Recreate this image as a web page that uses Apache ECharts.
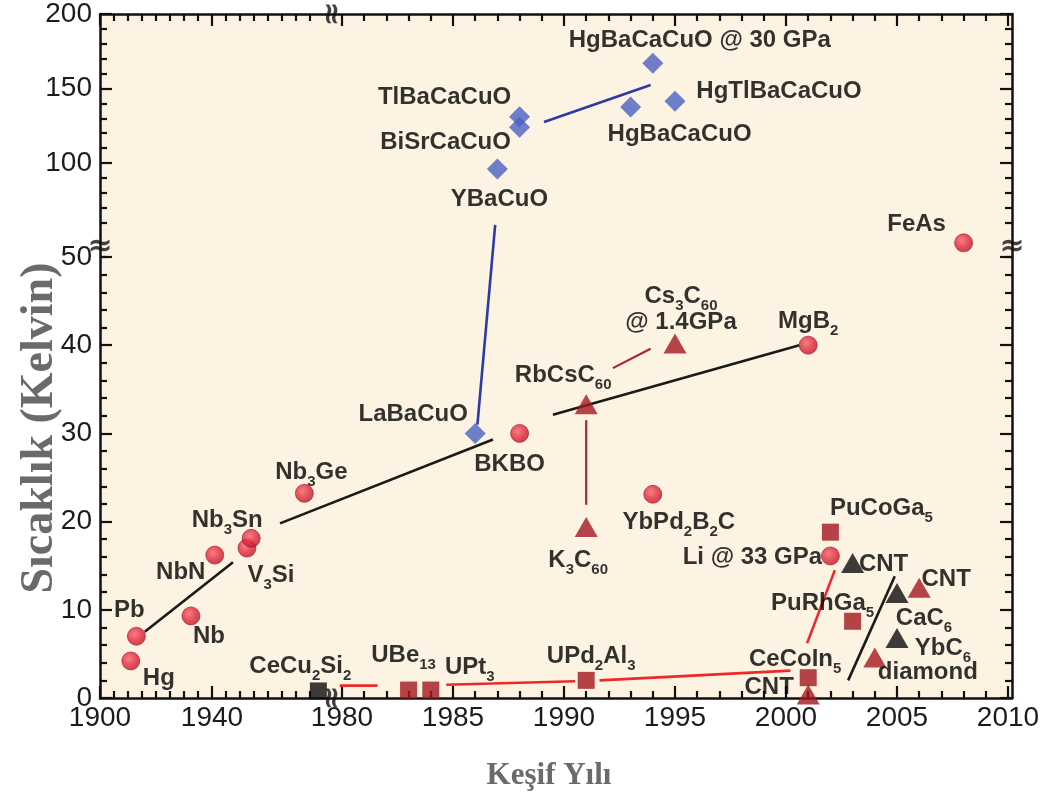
<!DOCTYPE html>
<html><head><meta charset="utf-8">
<script src="https://cdn.jsdelivr.net/npm/echarts@6/dist/echarts.min.js"></script>
<style>html,body{margin:0;padding:0;background:#fff}#c{width:1047px;height:798px}</style>
</head><body><div id="c"></div>
<script>
// ---------------- DATA (year, Tc in Kelvin) ----------------
const circleNames = ['Hg','Pb','Nb','NbN','V3Si','Nb3Sn','Nb3Ge','BKBO','YbPd2B2C','MgB2','Li','FeAs'];
const circleYears = [1911,1913,1932.5,1941,1952.5,1954,1973,1988,1994,2001,2002,2008];
const circleTc    = [4.2,7,9.3,16.2,17,18.1,23.2,30,23.1,40,16.1,51.6];

const diamondNames = ['LaBaCuO','YBaCuO','BiSrCaCuO','TlBaCaCuO','HgBaCaCuO','HgBaCaCuO30','HgTlBaCaCuO'];
const diamondYears = [1986,1987,1988,1988,1993,1994,1995];
const diamondTc    = [30,96,124,131,137.5,167,141.5];

const redTriNames = ['K3C60','RbCsC60','Cs3C60','CNT2001','diamond','CNT2006'];
const redTriYears = [1991,1991,1995,2001,2004,2006];
const redTriTc    = [19.4,33.3,40.2,0.4,4.6,12.5];

const blackTriNames = ['CNT2003','CaC6','YbC6'];
const blackTriYears = [2003,2005,2005];
const blackTriTc    = [15.3,11.9,6.8];

const squareNames = ['UBe13','UPt3','UPd2Al3','CeCoIn5','PuCoGa5','PuRhGa5'];
const squareYears = [1983,1984,1991,2001,2002,2003];
const squareTc    = [0.9,0.9,2.0,2.3,18.8,8.7];

const blackSquareNames = ['CeCu2Si2'];
const blackSquareYears = [1978];
const blackSquareTc    = [0.8];

// guide lines: [[year, Tc], [year, Tc]]
const blackLines = [[[1916,7.5],[1947.5,15.4]], [[1964.3,19.8],[1986.8,29.3]], [[1989.5,32.1],[2000.6,40]], [[2002.8,2.0],[2004.9,13.8]]];
const blueLines  = [[[1986.1,31],[1986.9,58.4]], [[1989.1,127.5],[1993.9,152.3]]];
const redLines   = [[[1979.9,1.4],[1981.6,1.4]], [[1984.7,1.5],[1990.5,1.9]], [[1991.6,2.0],[2000.2,3.1]], [[2000.95,6.2],[2002.2,14.5]]];
const darkRedLines = [[[1992.2,37.4],[1993.9,39.6]], [[1991,31.5],[1991,21.9]]];

// tick labels
const xMajorTicks = [1900,1940,1980,1985,1990,1995,2000,2005,2010];
const xMinorTicks = [1905,1910,1915,1920,1925,1930,1935,1945,1950,1955,1960,1965,1970,1975,
  1981,1982,1983,1984,1986,1987,1988,1989,1991,1992,1993,1994,1996,1997,1998,1999,2001,2002,2003,2004,2006,2007,2008,2009];
const yMajorTicks = [0,10,20,30,40,50,100,150,200];
const yMinorTicks = [2,4,6,8,12,14,16,18,22,24,26,28,32,34,36,38,42,44,46,48,
  50,60,70,80,90,110,120,130,140,160,170,180,190];

// label texts (rich: s = subscript)
const labelText = {
  Hg:'Hg', Pb:'Pb', Nb:'Nb', NbN:'NbN', V3Si:'V{s|3}Si', Nb3Sn:'Nb{s|3}Sn', Nb3Ge:'Nb{s|3}Ge', BKBO:'BKBO',
  YbPd2B2C:'YbPd{s|2}B{s|2}C', MgB2:'MgB{s|2}', Li:'Li @ 33 GPa', FeAs:'FeAs',
  LaBaCuO:'LaBaCuO', YBaCuO:'YBaCuO', BiSrCaCuO:'BiSrCaCuO', TlBaCaCuO:'TlBaCaCuO', HgBaCaCuO:'HgBaCaCuO',
  HgBaCaCuO30:'HgBaCaCuO @ 30 GPa', HgTlBaCaCuO:'HgTlBaCaCuO',
  K3C60:'K{s|3}C{s|60}', RbCsC60:'RbCsC{s|60}', Cs3C60:'Cs{s|3}C{s|60}\n{b|@ 1.4GPa}', CNT2001:'CNT', diamond:'diamond', CNT2006:'CNT',
  CNT2003:'CNT', CaC6:'CaC{s|6}', YbC6:'YbC{s|6}',
  UBe13:'UBe{s|13}', UPt3:'UPt{s|3}', UPd2Al3:'UPd{s|2}Al{s|3}', CeCoIn5:'CeCoIn{s|5}', PuCoGa5:'PuCoGa{s|5}', PuRhGa5:'PuRhGa{s|5}',
  CeCu2Si2:'CeCu{s|2}Si{s|2}'
};
// label offsets from marker centre (px)
const labelOffset = {
  Hg:[28,17], Pb:[-7,-26], Nb:[18,20], NbN:[-34,17], V3Si:[24,27], Nb3Sn:[-24,-18], Nb3Ge:[7,-21], CeCu2Si2:[-18,-25],
  UBe13:[-5,-35], UPt3:[39,-23], UPd2Al3:[5,-24], LaBaCuO:[-62,-19], BKBO:[-10,31], YBaCuO:[2,30], BiSrCaCuO:[-74,15],
  TlBaCaCuO:[-75,-19], HgBaCaCuO30:[47,-23], HgTlBaCaCuO:[104,-10], HgBaCaCuO:[49,27], Cs3C60:[6,-38], MgB2:[0,-24],
  RbCsC60:[-23,-29], YbPd2B2C:[26,28], K3C60:[-8,33], PuCoGa5:[51,-24], Li:[-78,1], CNT2003:[31,1], CNT2006:[27,-8],
  PuRhGa5:[-30,-18], CaC6:[27,25], YbC6:[46,10], diamond:[53,15], CeCoIn5:[-13,-18], CNT2001:[-39,-7], FeAs:[-47,-18]
};

// ---------------- broken-axis transforms ----------------
const X_LEFT_T0 = 1969.10, X_LEFT_K = 0.1261, X_BREAK_T = 1979.59, X_MIN = 1969.10, X_MAX = 2010.18;
function xt(year){ return year < 1979.8 ? X_LEFT_T0 + (year - 1900) * X_LEFT_K : year; }
function xInv(t){ return t < X_BREAK_T ? 1900 + (t - X_LEFT_T0) / X_LEFT_K : t; }
const Y_BREAK_T = 51.13, Y_UP_FROM = 43.6, Y_UP_K = 0.1689;
function yt(v){ return v <= 53 ? v : Y_BREAK_T + (v - Y_UP_FROM) * Y_UP_K; }
function yInv(t){ return t <= Y_BREAK_T + 0.5 ? t : Y_UP_FROM + (t - Y_BREAK_T) / Y_UP_K; }
const Y_MAX = yt(200);

const FONT = "'Liberation Sans', Arial, Helvetica, sans-serif";
const INK = '#111';
const LABEL_INK = '#000000';

function pts(names, years, tcs){
  return names.map((n, i) => ({
    name: n, value: [xt(years[i]), yt(tcs[i])],
    label: { show: true, formatter: labelText[n], position: 'inside', offset: labelOffset[n] }
  }));
}
const labelStyle = {
  color: LABEL_INK, fontFamily: FONT, fontWeight: 'bold', fontSize: 24, lineHeight: 28,
  rich: {
    s: { fontFamily: FONT, fontWeight: 'bold', fontSize: 15, color: LABEL_INK, lineHeight: 34, verticalAlign: 'bottom' },
    b: { fontFamily: FONT, fontWeight: 'bold', fontSize: 24, color: LABEL_INK, lineHeight: 18 }
  }
};
function markerSeries(name, data, symbol, size, itemStyle){
  return { name, type: 'scatter', data, symbol, symbolSize: size, itemStyle, label: labelStyle,
    clip: false, z: 5, emphasis: { disabled: true } };
}
function lineSeries(segs, color, width){
  return segs.map(seg => ({ type: 'line', data: seg.map(p => [xt(p[0]), yt(p[1])]), showSymbol: false,
    symbol: 'none', lineStyle: { color, width }, silent: true, z: 3, clip: false }));
}

const redBall = new echarts.graphic.RadialGradient(0.4, 0.38, 0.65, [
  { offset: 0, color: '#f4616a' }, { offset: 0.55, color: '#e0273a' }, { offset: 1, color: '#b5162a' }]);

function xAxisDef(pos, major){
  return {
    type: 'value', min: X_MIN, max: X_MAX, position: pos,
    axisLine: { show: major, onZero: false, lineStyle: { color: INK, width: 2.5 } },
    axisTick: { show: true, inside: true, length: major ? 12 : 7,
      customValues: (major ? xMajorTicks : xMinorTicks).map(xt), lineStyle: { color: INK, width: 2.2 } },
    axisLabel: { show: major && pos === 'bottom', customValues: xMajorTicks.map(xt),
      formatter: v => String(Math.round(xInv(v))), fontFamily: FONT, fontSize: 28, color: '#1c1c1c', margin: 6 },
    splitLine: { show: false }
  };
}
function yAxisDef(pos, major){
  return {
    type: 'value', min: 0, max: Y_MAX, position: pos,
    axisLine: { show: major, onZero: false, lineStyle: { color: INK, width: 2.5 } },
    axisTick: { show: true, inside: true, length: major ? 12 : 7,
      customValues: (major ? yMajorTicks : yMinorTicks).map(yt), lineStyle: { color: INK, width: 2.2 } },
    axisLabel: { show: major && pos === 'left', customValues: yMajorTicks.map(yt),
      formatter: v => String(Math.round(yInv(v))), fontFamily: FONT, fontSize: 28, color: '#1c1c1c', margin: 8 },
    splitLine: { show: false }
  };
}

const breakMarks = {
  type: 'scatter', symbolSize: 1, itemStyle: { color: 'rgba(0,0,0,0)' }, clip: false, silent: true, z: 10,
  data: [
    { value: [X_BREAK_T, Y_MAX], label: { rotate: 90 } },
    { value: [X_BREAK_T, 0], label: { rotate: 90 } },
    { value: [X_MIN, Y_BREAK_T], label: { rotate: 0 } },
    { value: [X_MAX, Y_BREAK_T], label: { rotate: 0 } }
  ],
  label: { show: true, position: 'inside', formatter: '\u2248', fontSize: 30, fontWeight: 'bold', color: INK, fontFamily: "'DejaVu Sans', sans-serif" }
};

const chart = echarts.init(document.getElementById('c'), null, { renderer: 'canvas' });
chart.setOption({
  backgroundColor: '#ffffff',
  animation: false,
  grid: { left: 100, right: 35, top: 14, bottom: 100, show: true, backgroundColor: '#fdf3e3', borderWidth: 0 },
  xAxis: [xAxisDef('bottom', true), xAxisDef('bottom', false), xAxisDef('top', true), xAxisDef('top', false)],
  yAxis: [yAxisDef('left', true), yAxisDef('left', false), yAxisDef('right', true), yAxisDef('right', false)],
  series: [
    ...lineSeries(blackLines, '#1a1a1a', 2.6),
    ...lineSeries(blueLines, '#2b3aa8', 2.6),
    ...lineSeries(redLines, '#ec2a2a', 2.6),
    ...lineSeries(darkRedLines, '#a8262c', 2.2),
    markerSeries('circles', pts(circleNames, circleYears, circleTc), 'circle', 18, { color: redBall, borderColor: '#a3142a', borderWidth: 0.8 }),
    markerSeries('diamonds', pts(diamondNames, diamondYears, diamondTc), 'diamond', 21, { color: '#4a60c0' }),
    markerSeries('redTriangles', pts(redTriNames, redTriYears, redTriTc), 'triangle', [23, 20], { color: '#a3171f' }),
    markerSeries('blackTriangles', pts(blackTriNames, blackTriYears, blackTriTc), 'triangle', [23, 20], { color: '#0d0d0d' }),
    markerSeries('squares', pts(squareNames, squareYears, squareTc), 'rect', 17, { color: '#a3161e' }),
    markerSeries('blackSquares', pts(blackSquareNames, blackSquareYears, blackSquareTc), 'rect', 17, { color: '#0d0d0d' }),
    breakMarks
  ],
  graphic: [
    { type: 'text', x: 40, y: 428, rotation: Math.PI / 2,
      style: { text: 'Sıcaklık (Kelvin)', fill: '#6a6a6a', font: "bold 46px 'Liberation Serif', 'Times New Roman', serif", align: 'center', verticalAlign: 'middle' } },
    { type: 'text', x: 549, y: 776,
      style: { text: 'Keşif Yılı', fill: '#6a6a6a', font: "bold 31px 'Liberation Serif', 'Times New Roman', serif", align: 'center', verticalAlign: 'middle' } }
  ]
});
</script></body></html>
